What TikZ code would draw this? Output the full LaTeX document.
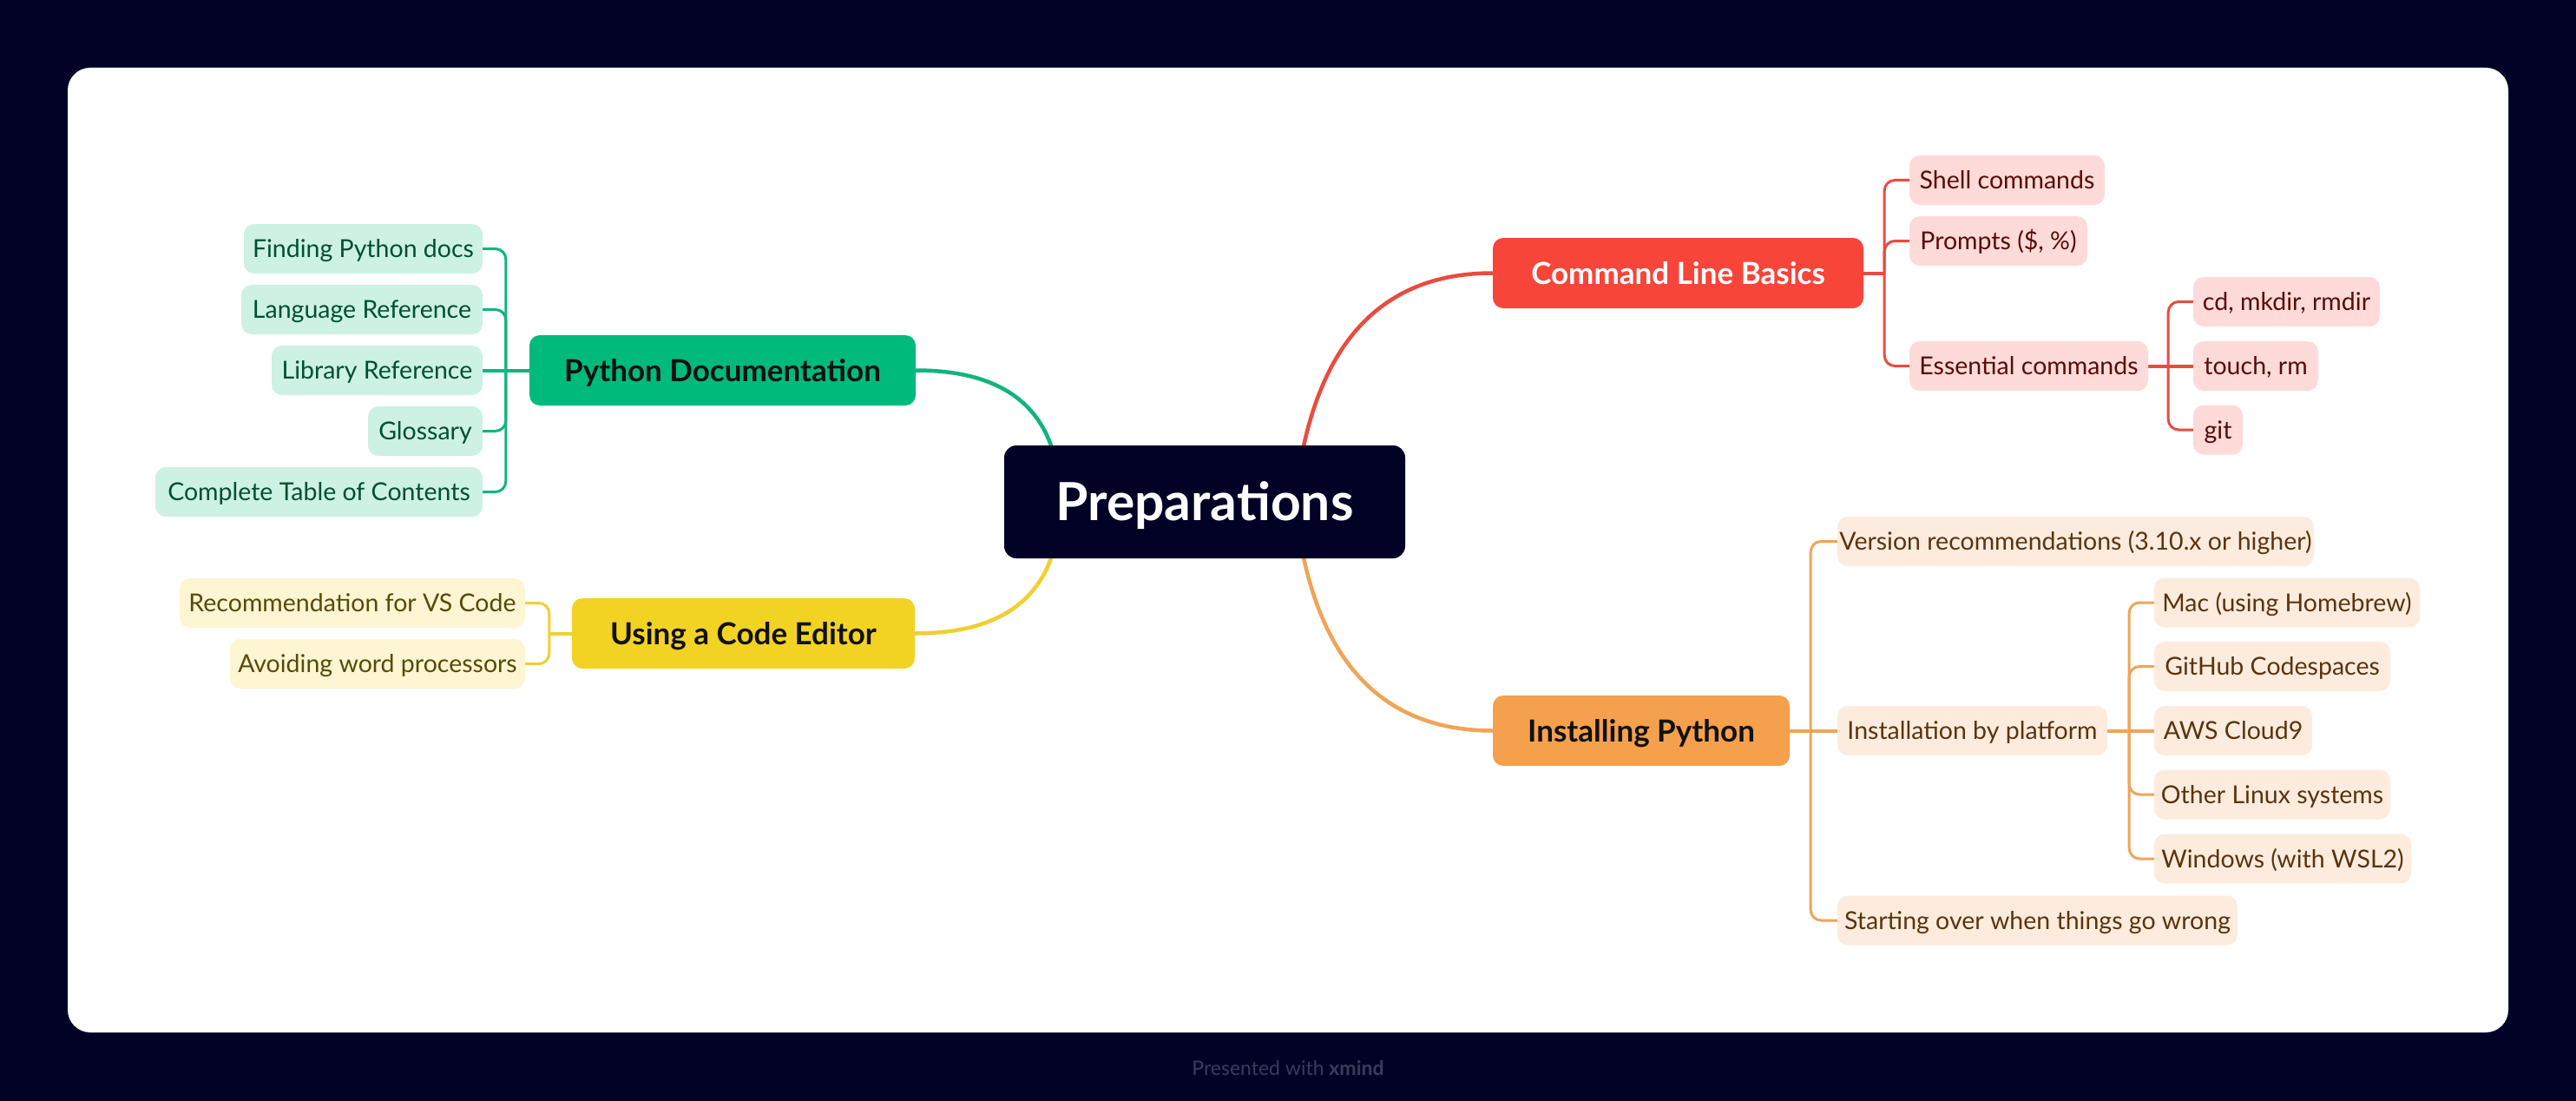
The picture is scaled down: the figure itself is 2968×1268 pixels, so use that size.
\documentclass[tikz,border=0pt]{standalone}
\usepackage{fontspec}
\setmainfont{Lato}
\usetikzlibrary{calc}
\definecolor{navy}{RGB}{1,2,38}
\definecolor{footgray}{RGB}{58,59,92}
\definecolor{redM}{RGB}{247,69,58}
\definecolor{redLn}{RGB}{232,76,64}
\definecolor{redL}{RGB}{254,219,216}
\definecolor{redT}{RGB}{90,12,10}
\definecolor{orM}{RGB}{245,160,76}
\definecolor{orLn}{RGB}{240,164,88}
\definecolor{orL}{RGB}{253,236,221}
\definecolor{orT}{RGB}{90,52,16}
\definecolor{grM}{RGB}{0,186,124}
\definecolor{grLn}{RGB}{16,181,124}
\definecolor{grL}{RGB}{205,241,227}
\definecolor{grT}{RGB}{0,80,48}
\definecolor{yeM}{RGB}{242,211,35}
\definecolor{yeLn}{RGB}{240,208,48}
\definecolor{yeL}{RGB}{254,245,210}
\definecolor{yeT}{RGB}{88,74,10}
\definecolor{topicT}{RGB}{17,17,17}
\pgfdeclarelayer{bg}
\pgfsetlayers{bg,main}
\tikzset{
  box/.style={rectangle, rounded corners=12pt, inner sep=0pt, minimum height=57pt,
    text depth=0pt, align=center},
  leaf/.style={box, text height=20.5pt, font=\fontsize{28.5}{31}\selectfont},
  leafR/.style={leaf, fill=redL, text=redT},
  leafO/.style={leaf, fill=orL, text=orT},
  leafG/.style={leaf, fill=grL, text=grT},
  leafY/.style={leaf, fill=yeL, text=yeT},
  topic/.style={box, minimum height=81pt, text height=25pt, font=\bfseries\fontsize{35}{38}\selectfont},
  rootbox/.style={box, minimum height=130pt, text height=43.5pt, rounded corners=14pt, fill=navy, text=white,
    font=\bfseries\fontsize{60.5}{64}\selectfont},
  curve/.style={line width=4.5pt, line cap=round},
  br/.style={line width=3pt, rounded corners=12pt},
  stub/.style={line width=4pt},
}
\newcommand{\mainconn}[4]{%
  \coordinate (#4m) at ($(#1)!0.2!(#2)$);
  \coordinate (#4c) at (#4m |- #2);
  \draw[curve, #3] (#1) .. controls ($(#1)!2/3!(#4c)$) and ($(#2)!2/3!(#4c)$) .. (#2);
}
\begin{document}
\begin{tikzpicture}[x=1pt, y=-1pt]
\useasboundingbox (0,0) rectangle (2968,1268);

% root
\node[rootbox, minimum width=462pt] (prep) at (1388,578) {Preparations};

% main topics
\node[topic, minimum width=427pt, fill=redM, text=white] (clb) at (1933.5,314.5) {Command Line Basics};
\node[topic, minimum width=342pt, fill=orM, text=topicT] (ip) at (1891,841.5) {Installing Python};
\node[topic, minimum width=445pt, fill=grM, text=topicT] (pd) at (832.5,426.5) {Python Documentation};
\node[topic, minimum width=395pt, fill=yeM, text=topicT] (uce) at (856.5,729.5) {Using a Code Editor};

% red leaves
\node[leafR, minimum width=225pt] (shell) at (2312.5,207.5) {Shell commands};
\node[leafR, minimum width=205pt] (prompts) at (2302.5,277.5) {Prompts (\$, \%)};
\node[leafR, minimum width=275pt] (ess) at (2337.5,421.5) {Essential commands};
\node[leafR, minimum width=215pt] (cd) at (2634.5,347.5) {cd, mkdir, rmdir};
\node[leafR, minimum width=144pt] (touch) at (2599,421.5) {touch, rm};
\node[leafR, minimum width=57pt] (git) at (2555.5,495) {git};

% orange leaves
\node[leafO, minimum width=549pt] (version) at (2391.5,623.5) {Version recommendations (3.10.x or higher)};
\node[leafO, minimum width=311pt] (platform) at (2272.5,841.5) {Installation by platform};
\node[leafO, minimum width=461pt] (restart) at (2347.5,1060) {Starting over when things go wrong};
\node[leafO, minimum width=306pt] (mac) at (2635,694) {Mac (using Homebrew)};
\node[leafO, minimum width=272pt] (github) at (2618,767.5) {GitHub Codespaces};
\node[leafO, minimum width=182pt] (aws) at (2573,841.5) {AWS Cloud9};
\node[leafO, minimum width=272pt] (linux) at (2618,915) {Other Linux systems};
\node[leafO, minimum width=296pt] (windows) at (2630,989) {Windows (with WSL2)};

% green leaves
\node[leafG, minimum width=275pt] (finding) at (418.5,286.5) {Finding Python docs};
\node[leafG, minimum width=278pt] (langref) at (417,356.5) {Language Reference};
\node[leafG, minimum width=243pt] (libref) at (434.5,426.5) {Library Reference};
\node[leafG, minimum width=132pt] (gloss) at (490,496.5) {Glossary};
\node[leafG, minimum width=377pt] (toc) at (367.5,566.5) {Complete Table of Contents};

% yellow leaves
\node[leafY, minimum width=398pt] (vscode) at (406,694.5) {Recommendation for VS Code};
\node[leafY, minimum width=340pt] (avoid) at (435,764.5) {Avoiding word processors};

% footer
\node[text=footgray, font=\fontsize{23}{27}\selectfont] (foot) at (1484,1230) {Presented with \textbf{xmind}};

\begin{pgfonlayer}{bg}
\fill[navy] (0,0) rectangle (2968,1268);
\fill[white, rounded corners=26pt] (78,78) rectangle (2890,1189);

% main curves
\coordinate (sR) at ($(prep.north west)!0.747!(prep.north east)$);
\coordinate (sO) at ($(prep.south west)!0.747!(prep.south east)$);
\coordinate (sG) at ($(prep.north west)!0.117!(prep.north east)$);
\coordinate (sY) at ($(prep.south west)!0.117!(prep.south east)$);
\mainconn{sR}{clb.west}{redLn}{kr}
\mainconn{sO}{ip.west}{orLn}{ko}
\mainconn{sG}{pd.east}{grLn}{kg}
\mainconn{sY}{uce.east}{yeLn}{ky}

% red branches
\draw[stub, redLn] (clb.east) -- ++(24,0) coordinate (clbv);
\draw[br, redLn] (clbv) |- (shell.west);
\draw[br, redLn] (clbv) |- (prompts.west);
\draw[br, redLn] (clbv) |- (ess.west);
\draw[stub, redLn] (ess.east) -- (touch.west);
\coordinate (essv) at ($(ess.east)+(23,0)$);
\draw[br, redLn] (essv) |- (cd.west);
\draw[br, redLn] (essv) |- (git.west);

% orange branches
\draw[stub, orLn] (ip.east) -- (platform.west);
\coordinate (ipv) at ($(ip.east)+(24,0)$);
\draw[br, orLn] (ipv) |- (version.west);
\draw[br, orLn] (ipv) |- (restart.west);
\draw[stub, orLn] (platform.east) -- (aws.west);
\coordinate (platv) at ($(platform.east)+(25,0)$);
\draw[br, orLn] (platv) |- (mac.west);
\draw[br, orLn] (platv) |- (github.west);
\draw[br, orLn] (platv) |- (linux.west);
\draw[br, orLn] (platv) |- (windows.west);

% green branches
\draw[stub, grLn] (pd.west) -- (libref.east);
\coordinate (pdv) at ($(pd.west)+(-27,0)$);
\draw[br, grLn] (pdv) |- (finding.east);
\draw[br, grLn] (pdv) |- (langref.east);
\draw[br, grLn] (pdv) |- (gloss.east);
\draw[br, grLn] (pdv) |- (toc.east);

% yellow branches
\draw[stub, yeLn] (uce.west) -- ++(-26,0) coordinate (ucev);
\draw[br, yeLn] (ucev) |- (vscode.east);
\draw[br, yeLn] (ucev) |- (avoid.east);
\end{pgfonlayer}
\end{tikzpicture}
\end{document}
